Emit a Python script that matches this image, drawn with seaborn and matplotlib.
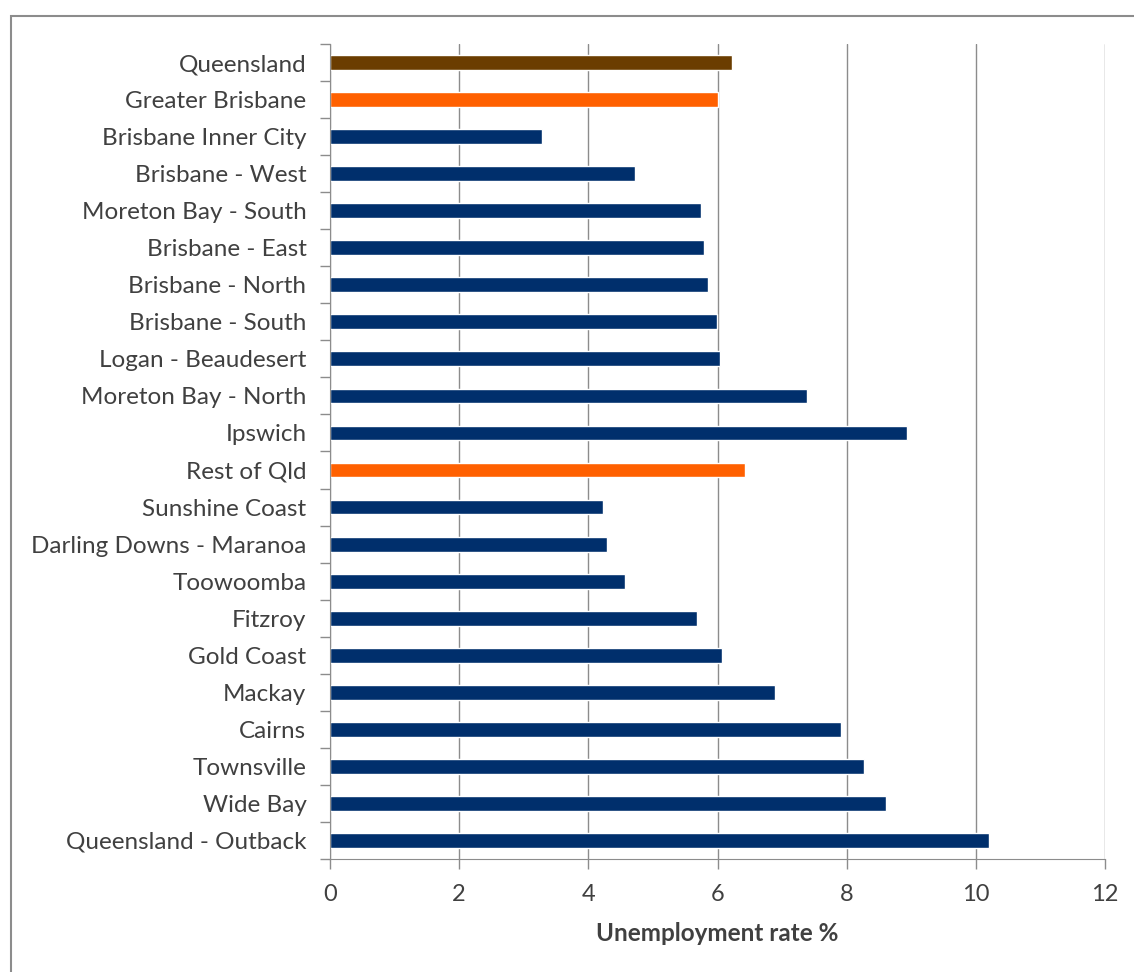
import numpy as np
import pandas as pd
import matplotlib.pyplot as plt
import seaborn as sns
from matplotlib.patches import Rectangle

# data
regions = ['Queensland', 'Greater Brisbane', 'Brisbane Inner City', 'Brisbane - West',
           'Moreton Bay - South', 'Brisbane - East', 'Brisbane - North', 'Brisbane - South',
           'Logan - Beaudesert', 'Moreton Bay - North', 'Ipswich', 'Rest of Qld',
           'Sunshine Coast', 'Darling Downs - Maranoa', 'Toowoomba', 'Fitzroy',
           'Gold Coast', 'Mackay', 'Cairns', 'Townsville', 'Wide Bay', 'Queensland - Outback']
rates = [6.22, 6.0, 3.28, 4.72, 5.74, 5.79, 5.85, 5.99, 6.04, 7.39, 8.93, 6.43,
         4.23, 4.29, 4.57, 5.68, 6.07, 6.89, 7.91, 8.27, 8.61, 10.21]
groups = ['state', 'total'] + ['region'] * 9 + ['total'] + ['region'] * 10

colours = {'state': '#6b3d00', 'total': '#ff6000', 'region': '#002f6c'}

df = pd.DataFrame({'region': regions, 'rate': rates, 'group': groups})

sns.set_style('white')
plt.rcParams['font.family'] = ['Lato', 'DejaVu Sans']

fig = plt.figure(figsize=(11.34, 9.72), dpi=100)
ax = fig.add_axes([330 / 1134, 1 - 859 / 972, 775 / 1134, 815 / 972])

sns.barplot(data=df, y='region', x='rate', hue='group', palette=colours, saturation=1,
            dodge=False, legend=False, width=0.4, orient='h', ax=ax)

ax.set_xlim(0, 12)
ax.set_ylim(len(regions) - 0.5, -0.5)
ax.set_xticks(np.arange(0, 13, 2))
ax.xaxis.grid(True, color='#8c8c8c', linewidth=1)
ax.set_axisbelow(True)

# category ticks sit between the bars
ax.set_yticks(np.arange(-0.5, len(regions), 1), minor=True)
ax.tick_params(axis='y', which='major', length=0, labelsize=17.5, colors='#404040', pad=17)
ax.tick_params(axis='y', which='minor', length=7, color='#8c8c8c', width=1, left=True)
ax.tick_params(axis='x', length=7, color='#8c8c8c', width=1, bottom=True,
               labelsize=17, labelcolor='#404040', pad=11)

for s in ['top', 'right']:
    ax.spines[s].set_visible(False)
ax.spines['left'].set_color('#8c8c8c')
ax.spines['bottom'].set_color('#8c8c8c')

ax.set_ylabel('')
ax.set_xlabel('Unemployment rate %', fontsize=17.5, fontweight='bold', color='#404040', labelpad=12)

# outer chart border
fig.patches.append(Rectangle((11 / 1134, -0.01), 1.02, 1 - 16 / 972 + 0.01,
                             transform=fig.transFigure, fill=False,
                             edgecolor='#8c8c8c', linewidth=1.5))

fig.savefig('out.png', dpi=100)
